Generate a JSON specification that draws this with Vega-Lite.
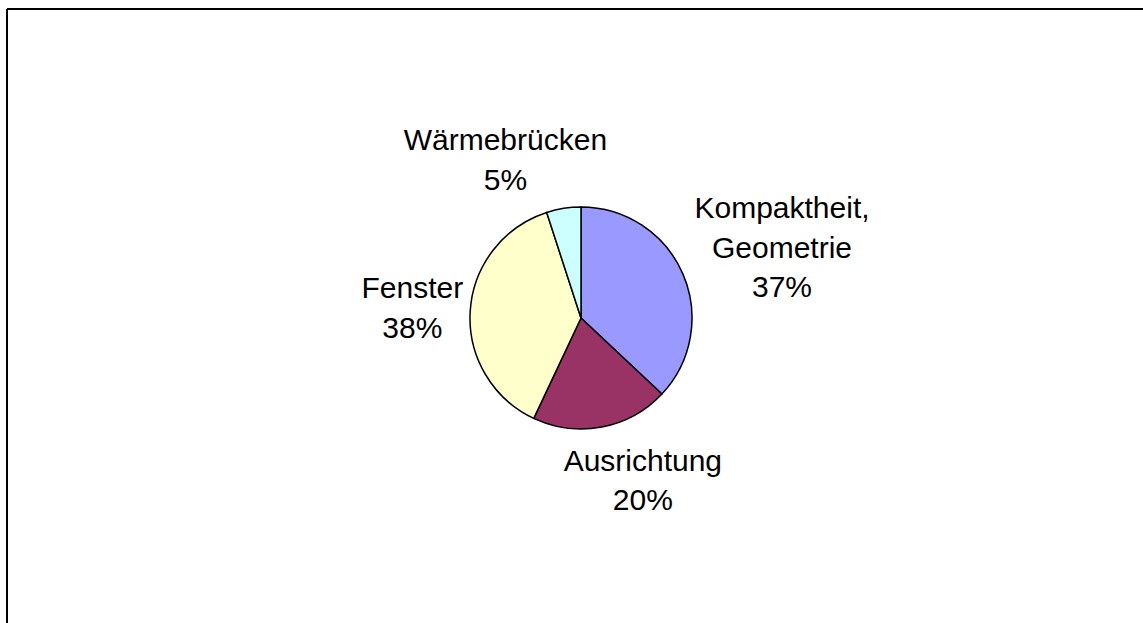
{
  "$schema": "https://vega.github.io/schema/vega-lite/v6.json",
  "autosize": {"type": "none"},
  "padding": {"left": 7, "top": 9, "right": -12, "bottom": -4},
  "width": 1148,
  "height": 618,
  "background": "white",
  "config": {
    "view": {"stroke": null},
    "font": "Liberation Sans"
  },
  "data": {
    "values": [
      {"idx": 1, "cat": "Kompaktheit, Geometrie", "value": 37, "label": ["Kompaktheit,", "Geometrie", "37%"]},
      {"idx": 2, "cat": "Ausrichtung", "value": 20, "label": ["Ausrichtung", "20%"]},
      {"idx": 3, "cat": "Fenster", "value": 38, "label": ["Fenster", "38%"]},
      {"idx": 4, "cat": "Wärmebrücken", "value": 5, "label": ["Wärmebrücken", "5%"]}
    ]
  },
  "layer": [
    {
      "data": {"values": [{"frame": "top"}]},
      "mark": {"type": "rule", "stroke": "black", "strokeWidth": 2},
      "encoding": {
        "x": {"value": 0},
        "x2": {"value": "width"},
        "y": {"value": 0}
      }
    },
    {
      "data": {"values": [{"frame": "left"}]},
      "mark": {"type": "rule", "stroke": "black", "strokeWidth": 2},
      "encoding": {
        "x": {"value": 0},
        "y": {"value": 0},
        "y2": {"value": "height"}
      }
    },
    {
      "mark": {"type": "arc", "outerRadius": 111, "stroke": "black", "strokeWidth": 1.5},
      "encoding": {
        "theta": {"field": "value", "type": "quantitative", "stack": true},
        "order": {"field": "idx", "type": "quantitative"},
        "color": {
          "field": "cat",
          "type": "nominal",
          "scale": {
            "domain": ["Kompaktheit, Geometrie", "Ausrichtung", "Fenster", "Wärmebrücken"],
            "range": ["#9999FF", "#993366", "#FFFFCC", "#CCFFFF"]
          },
          "legend": null
        }
      }
    },
    {
      "mark": {
        "type": "text",
        "radius": 170,
        "fontSize": 30,
        "lineHeight": 39.5,
        "align": "center",
        "baseline": "middle",
        "color": "black",
        "dx": {"expr": "datum.cat === 'Wärmebrücken' ? -49 : datum.cat === 'Ausrichtung' ? 30 : datum.cat === 'Fenster' ? 1 : 45"},
        "dy": {"expr": "datum.cat === 'Wärmebrücken' ? -9 : datum.cat === 'Ausrichtung' ? -23 : datum.cat === 'Fenster' ? -18 : -41"}
      },
      "encoding": {
        "theta": {"field": "value", "type": "quantitative", "stack": true},
        "order": {"field": "idx", "type": "quantitative"},
        "text": {"field": "label"}
      }
    }
  ]
}
